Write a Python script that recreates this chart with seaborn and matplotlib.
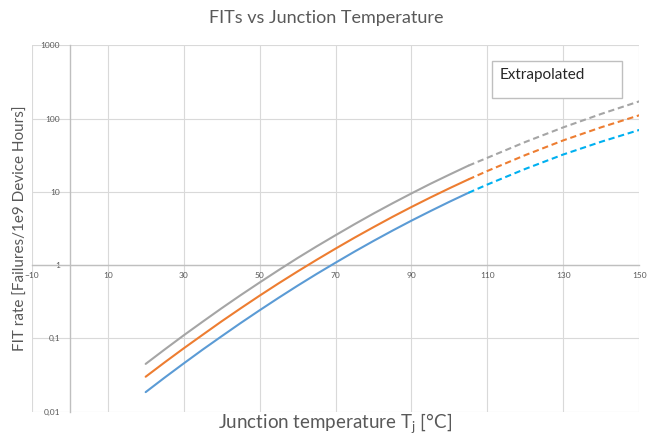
import matplotlib
matplotlib.use("Agg")
import matplotlib.pyplot as plt
import matplotlib.ticker as mticker
from matplotlib.patches import Rectangle
import seaborn as sns
import pandas as pd

# --- data ---
temp_meas = [20, 25, 30, 35, 40, 45, 50, 55, 60, 65, 70, 75, 80, 85, 90, 95, 100, 105]
fit_gray = [0.0449, 0.0706, 0.110, 0.169, 0.258, 0.389, 0.579, 0.855, 1.25, 1.80,
            2.56, 3.62, 5.06, 6.98, 9.53, 12.9, 17.2, 22.8]
fit_orange = [0.030, 0.0471, 0.0731, 0.112, 0.171, 0.257, 0.383, 0.564, 0.820, 1.18,
              1.68, 2.37, 3.30, 4.56, 6.22, 8.39, 11.2, 14.8]
fit_blue = [0.0185, 0.0292, 0.0455, 0.0703, 0.107, 0.162, 0.242, 0.358, 0.524, 0.757,
            1.08, 1.53, 2.14, 2.96, 4.05, 5.47, 7.33, 9.71]

temp_extra = [105, 110, 120, 130, 140, 150]
extra_gray = [22.8, 29.2, 48, 76, 116, 172]
extra_orange = [14.8, 19.3, 31.8, 50.5, 76.2, 111]
extra_blue = [9.71, 12.6, 20.6, 32.4, 48.4, 70]

x_ticks = [-10, 10, 30, 50, 70, 90, 110, 130, 150]
y_ticks = [0.01, 0.1, 1, 10, 100, 1000]
y_tick_labels = ["0,01", "0,1", "1", "10", "100", "1000"]

sns.set_style("white")
plt.rcParams["font.family"] = ["Lato", "DejaVu Sans"]

fig = plt.figure(figsize=(6.57, 4.37), dpi=100)
ax = fig.add_axes([0.0483, 0.0579, 0.9248, 0.8384])

text_col = "#595959"

# solid (measured) curves
meas = pd.DataFrame({"T": temp_meas, "gray": fit_gray,
                     "orange": fit_orange, "blue": fit_blue})
for col, c in [("gray", "#A5A5A5"), ("orange", "#ED7D31"), ("blue", "#5B9BD5")]:
    sns.lineplot(data=meas, x="T", y=col, ax=ax, color=c, lw=1.5, zorder=3)

# dashed (extrapolated) curves
extra = pd.DataFrame({"T": temp_extra, "gray": extra_gray,
                      "orange": extra_orange, "blue": extra_blue})
for col, c in [("gray", "#A5A5A5"), ("orange", "#ED7D31"), ("blue", "#00B0F0")]:
    sns.lineplot(data=extra, x="T", y=col, ax=ax, color=c, lw=1.5,
                 dashes=(3, 1.8), zorder=3)

ax.set_yscale("log")
ax.set_xlim(-10, 150)
ax.set_ylim(0.01, 1000)
ax.set_xticks(x_ticks)
ax.set_yticks(y_ticks)
ax.set_yticklabels(y_tick_labels)
ax.yaxis.set_minor_locator(mticker.NullLocator())
ax.xaxis.set_minor_locator(mticker.NullLocator())
ax.tick_params(length=0, labelsize=6, labelcolor=text_col)
ax.tick_params(axis="x", pad=5)
ax.tick_params(axis="y", pad=7)

ax.grid(True, color="#D9D9D9", lw=0.8)
ax.set_axisbelow(True)
for s in ["top", "right"]:
    ax.spines[s].set_visible(False)
ax.spines["left"].set_position(("data", 0))
ax.spines["bottom"].set_position(("data", 1))
for s in ["left", "bottom"]:
    ax.spines[s].set_color("#BFBFBF")
    ax.spines[s].set_linewidth(1)
ax.set_xlabel("")
ax.set_ylabel("")

fig.text(0.497, 1 - 18 / 437, "FITs vs Junction Temperature", ha="center",
         va="center", fontsize=13, color=text_col)
fig.text(335 / 657, 1 - 424 / 437, r"Junction temperature T$_\mathregular{j}$ [°C]",
         ha="center", va="center", fontsize=13.5, color=text_col)
fig.text(21 / 657, 1 - 228 / 437, "FIT rate [Failures/1e9 Device Hours]",
         ha="center", va="center", rotation=90, fontsize=11, color=text_col)

# "Extrapolated" text box
fig.add_artist(Rectangle((492 / 657, 1 - 98.3 / 437), 129.5 / 657, 37.6 / 437,
                         transform=fig.transFigure, facecolor="white",
                         edgecolor="#BFBFBF", lw=1))
fig.text(500 / 657, 1 - 75 / 437, "Extrapolated", ha="left", va="center",
         fontsize=11, color="#262626")

fig.savefig("out.png", dpi=100)
